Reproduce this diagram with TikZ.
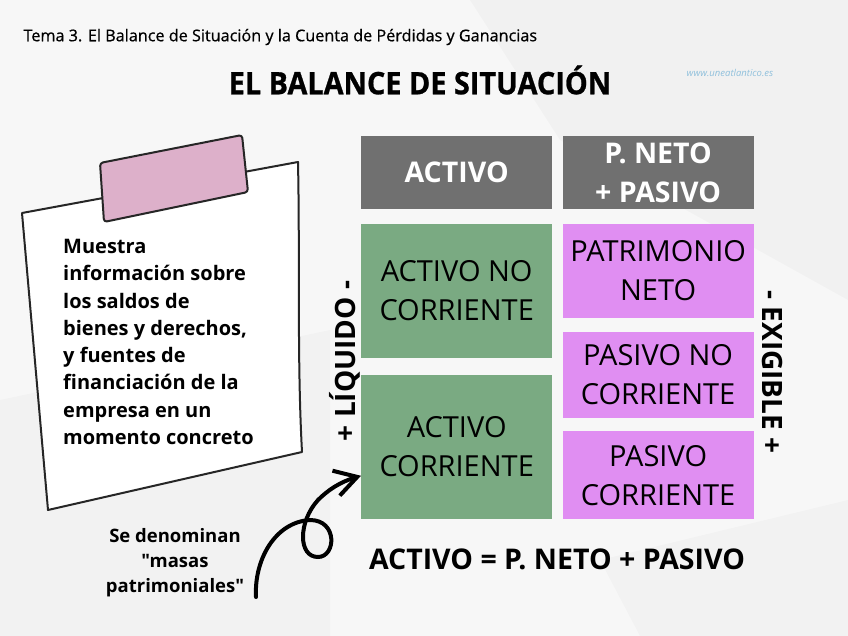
\documentclass[tikz,border=0pt]{standalone}
\usepackage{fontspec}
\setmainfont{Open Sans}[Ligatures=TeXOff]
\newfontfamily\condfont[FakeStretch=0.93, FakeBold=0.8]{Open Sans}
\newfontfamily\temafont[FakeBold=0.7]{Open Sans}
\usepackage{xcolor}
\usepackage{tikz}
\usetikzlibrary{arrows.meta,positioning}

\definecolor{headgrey}{HTML}{707070}
\definecolor{activogreen}{HTML}{7AAA82}
\definecolor{pasivopink}{HTML}{E08EF2}
\definecolor{tapepink}{HTML}{DDB0CA}
\definecolor{paperbg}{HTML}{F7F7F7}
\definecolor{weblink}{HTML}{8FC0DC}

\begin{document}
\begin{tikzpicture}[
    x=1pt, y=-1pt,
    block/.style={
        align=center,
        inner sep=0pt,
        minimum width=191pt,
        font=\fontsize{29}{39}\selectfont
    },
    headbox/.style={block, fill=headgrey, text=white, minimum height=73pt,
        font=\fontsize{28.5}{39}\selectfont\bfseries},
    activobox/.style={block, fill=activogreen},
    pasivobox/.style={block, fill=pasivopink},
    sidelabel/.style={font=\fontsize{28}{30}\selectfont\bfseries},
    sketch/.style={line width=2pt, line join=round, draw=black!85}
]
% background
\fill[paperbg] (0,0) rectangle (848,636);
\fill[black, opacity=0.025] (470,0) -- (848,0) -- (848,300) -- (560,140) -- cycle;
\fill[black, opacity=0.02] (0,400) -- (330,330) -- (330,636) -- (0,636) -- cycle;
\fill[black, opacity=0.02] (600,560) -- (848,500) -- (848,636) -- (640,636) -- cycle;
\useasboundingbox (0,0) rectangle (848,636);

% titles
\node[anchor=west, font=\temafont\fontsize{16.2}{19}\selectfont] (tema) at (20,37)
    {Tema 3. El Balance de Situación y la Cuenta de Pérdidas y Ganancias};
\node[font=\condfont\bfseries\fontsize{31}{36}\selectfont] (title) at (420,80)
    {EL BALANCE DE SITUACIÓN};
\node[font=\itshape\fontsize{9.5}{11}\selectfont, text=weblink] (web) at (730,73)
    {www.uneatlantico.es};

% balance blocks
\node[headbox, anchor=north west] (headA) at (361,136) {ACTIVO};
\node[headbox, right=10pt of headA] (headP) {P. NETO\\+ PASIVO};
\node[activobox, minimum height=134pt, below=14pt of headA] (anc) {ACTIVO NO\\CORRIENTE};
\node[activobox, minimum height=144pt, below=17pt of anc] (ac) {ACTIVO\\CORRIENTE};
\node[pasivobox, minimum height=94pt, below=14pt of headP] (pn) {PATRIMONIO\\NETO};
\node[pasivobox, minimum height=86pt, below=14pt of pn] (pnc) {PASIVO NO\\CORRIENTE};
\node[pasivobox, minimum height=88pt, below=13pt of pnc] (pc) {PASIVO\\CORRIENTE};

\node[sidelabel, rotate=90] (liquido) at (345,361) {+ LÍQUIDO -};
\node[sidelabel, rotate=-90] (exigible) at (772,372) {- EXIGIBLE +};
\node[font=\fontsize{28.5}{32}\selectfont\bfseries] (equation) at (557,559)
    {ACTIVO = P. NETO + PASIVO};

% note paper
\draw[sketch, fill=white] (22,213) -- (298,162) .. controls (300,260) and (297,360) .. (302,452)
    -- (48,510) -- cycle;
\draw[sketch, fill=tapepink, rounded corners=3pt] (100,163) -- (242,135) -- (248,192) -- (104,222) -- cycle;
\node[anchor=north west, align=left, inner sep=0pt,
    font=\fontsize{20}{27.3}\selectfont\bfseries] (notetext) at (63,239)
    {Muestra\\información sobre\\los saldos de\\bienes y derechos,\\y fuentes de\\financiación de la\\empresa en un\\momento concreto};

\node[align=center, font=\fontsize{18.5}{25}\selectfont\bfseries] (masas) at (175,563)
    {Se denominan\\"masas\\patrimoniales"};

% curly arrow
\coordinate (curlstart) at (256,597);
\draw[line width=4pt, line cap=round, -{Straight Barb[length=22pt, width=26pt]}]
    (curlstart) .. controls (254,560) and (275,522) .. (310,520)
    .. controls (338,520) and (336,557) .. (318,557)
    .. controls (298,557) and (298,522) .. (318,500)
    .. controls (328,490) and (340,482) .. ([yshift=-101pt]ac.north west);
\end{tikzpicture}
\end{document}
